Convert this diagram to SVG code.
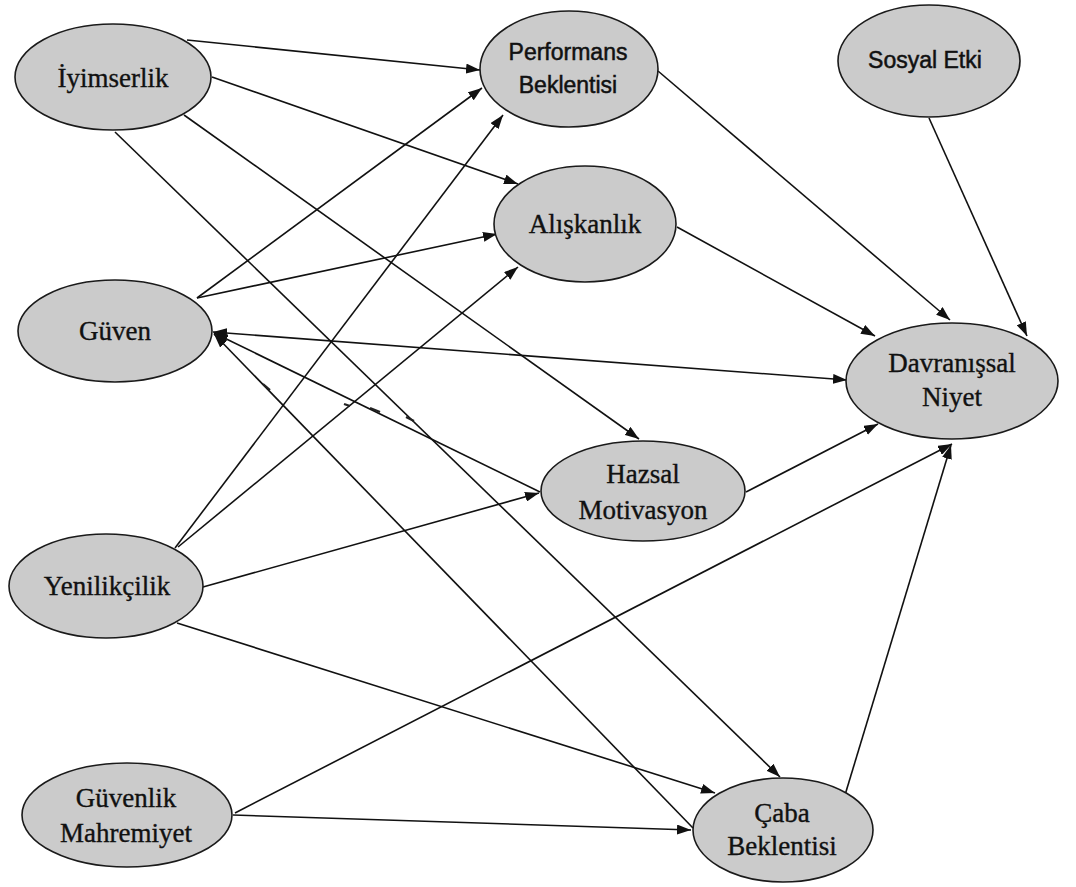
<svg xmlns="http://www.w3.org/2000/svg" width="1076" height="887" viewBox="0 0 1076 887">
  <style>
    .node ellipse { fill: #cbcbcb; stroke: #1a1a1a; stroke-width: 1.6; }
    .serif { font-family: "Liberation Serif", "Times New Roman", serif; font-size: 27px; fill: #111; stroke: #111; stroke-width: 0.35; text-anchor: middle; }
    .sans { font-family: "Liberation Sans", Arial, sans-serif; font-size: 23px; fill: #111; stroke: #111; stroke-width: 0.5; text-anchor: middle; }
    #connectors line { stroke: #111; stroke-width: 1.6; fill: none; }
    #connectors .arrow { marker-end: url(#head); }
    #connectors .both { marker-end: url(#head); marker-start: url(#head); }
    .tick { stroke: #222; stroke-width: 2.2; fill: none; }
  </style>
  <defs>
    <marker id="head" viewBox="0 0 14 10" refX="14" refY="5" markerWidth="14" markerHeight="10" markerUnits="userSpaceOnUse" orient="auto-start-reverse">
      <path d="M0,0 L14,5 L0,10 z" fill="#111"/>
    </marker>
  </defs>
  <rect width="1076" height="887" fill="#fff"/>

  <g id="connectors">
    <!-- İyimserlik -->
    <line class="arrow" x1="187" y1="40" x2="480" y2="70"/>
    <line class="arrow" x1="212" y1="77" x2="518" y2="184"/>
    <line class="arrow" x1="184" y1="115" x2="639" y2="439"/>
    <line class="arrow" x1="115" y1="132" x2="780" y2="777"/>
    <!-- Güven -->
    <line class="arrow" x1="197" y1="298" x2="482" y2="88"/>
    <line class="arrow" x1="197" y1="298" x2="497" y2="234"/>
    <line class="both" x1="213" y1="332" x2="847" y2="380"/>
    <line class="arrow" x1="540" y1="492" x2="214" y2="333"/>
    <line class="arrow" x1="693" y1="828" x2="214" y2="334"/>
    <!-- Yenilikçilik -->
    <line class="arrow" x1="175" y1="548" x2="503" y2="115"/>
    <line class="arrow" x1="178" y1="547" x2="518" y2="267"/>
    <line class="arrow" x1="203" y1="587" x2="539" y2="493"/>
    <line class="arrow" x1="177" y1="623" x2="715" y2="793"/>
    <!-- Güvenlik Mahremiyet -->
    <line class="arrow" x1="233" y1="815" x2="691" y2="830"/>
    <line class="arrow" x1="235" y1="813" x2="952" y2="444"/>
    <!-- into Davranışsal Niyet -->
    <line class="arrow" x1="658" y1="71" x2="950" y2="320"/>
    <line class="arrow" x1="677" y1="227" x2="875" y2="336"/>
    <line class="arrow" x1="929" y1="118" x2="1027" y2="336"/>
    <line class="arrow" x1="746" y1="492" x2="878" y2="424"/>
    <line class="arrow" x1="845" y1="795" x2="951" y2="445"/>
    <!-- small marks along the Güven lines -->
    <path class="tick" d="M263,384 L270,390"/>
    <path class="tick" d="M344,404 L350,406"/>
    <path class="tick" d="M370,408 L380,412"/>
    <path class="tick" d="M406,417 L414,421"/>
  </g>

  <g id="iyimserlik" class="node">
    <ellipse cx="113" cy="77" rx="98" ry="53"/>
    <text class="serif" x="113" y="87">İyimserlik</text>
  </g>
  <g id="performans-beklentisi" class="node">
    <ellipse cx="569" cy="69" rx="89" ry="58"/>
    <text class="sans" x="568" y="60">Performans</text>
    <text class="sans" x="568" y="93">Beklentisi</text>
  </g>
  <g id="sosyal-etki" class="node">
    <ellipse cx="929" cy="61" rx="91" ry="56"/>
    <text class="sans" x="925" y="68">Sosyal Etki</text>
  </g>
  <g id="aliskanlik" class="node">
    <ellipse cx="585" cy="224" rx="91" ry="58"/>
    <text class="serif" x="585" y="233">Alışkanlık</text>
  </g>
  <g id="guven" class="node">
    <ellipse cx="115" cy="331" rx="97" ry="51"/>
    <text class="serif" x="115" y="340">Güven</text>
  </g>
  <g id="davranissal-niyet" class="node">
    <ellipse cx="952" cy="381" rx="106" ry="58"/>
    <text class="serif" x="952" y="372">Davranışsal</text>
    <text class="serif" x="952" y="406">Niyet</text>
  </g>
  <g id="hazsal-motivasyon" class="node">
    <ellipse cx="643" cy="491" rx="102" ry="50"/>
    <text class="serif" x="643" y="483">Hazsal</text>
    <text class="serif" x="643" y="519">Motivasyon</text>
  </g>
  <g id="yenilikcilik" class="node">
    <ellipse cx="106" cy="586" rx="97" ry="52"/>
    <text class="serif" x="107" y="595">Yenilikçilik</text>
  </g>
  <g id="guvenlik-mahremiyet" class="node">
    <ellipse cx="127" cy="815" rx="105" ry="52"/>
    <text class="serif" x="126" y="807">Güvenlik</text>
    <text class="serif" x="126" y="842">Mahremiyet</text>
  </g>
  <g id="caba-beklentisi" class="node">
    <ellipse cx="783" cy="830" rx="90" ry="52"/>
    <text class="serif" x="782" y="822">Çaba</text>
    <text class="serif" x="782" y="855">Beklentisi</text>
  </g>
</svg>
